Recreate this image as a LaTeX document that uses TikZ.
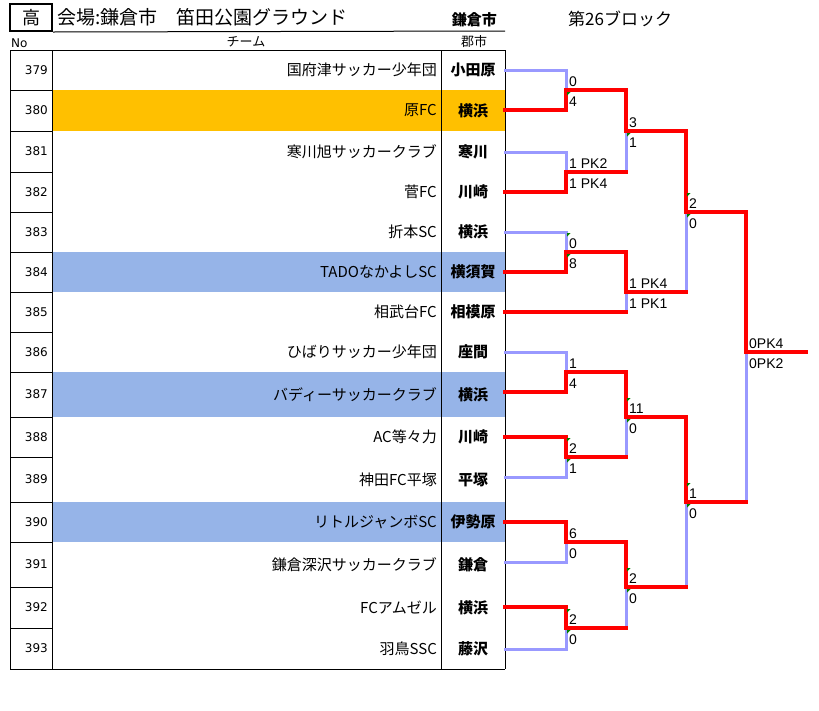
\documentclass[tikz,border=0pt]{standalone}
\usepackage{fontspec}
\usetikzlibrary{calc}
\setmainfont{Noto Sans CJK JP}
\newfontfamily\jpfont{Noto Sans CJK JP}
\newfontfamily\numfont{DejaVu Sans}
\newfontfamily\scfont{Liberation Sans}
\definecolor{winred}{RGB}{255,0,0}
\definecolor{loseblue}{RGB}{153,153,255}
\definecolor{hlorange}{RGB}{255,192,0}
\definecolor{hlblue}{RGB}{150,180,232}
\definecolor{markgreen}{RGB}{0,128,0}
\tikzset{
  tablerule/.style={draw=black, line width=1pt},
  numtxt/.style={font=\numfont\fontsize{12}{12}\selectfont, anchor=east, inner sep=0pt},
  teamtxt/.style={font=\jpfont\fontsize{15}{15}\selectfont, anchor=east, inner sep=0pt},
  citytxt/.style={font=\jpfont\bfseries\fontsize{15}{15}\selectfont, inner sep=0pt},
  headtxt/.style={font=\jpfont\fontsize{13}{13}\selectfont, inner sep=0pt},
  score/.style={font=\scfont\fontsize{14}{14}\selectfont, anchor=west, inner sep=0pt},
  winline/.style={draw=winred, line width=3.5pt, line cap=rect},
  loseline/.style={draw=loseblue, line width=3pt, line cap=rect},
  cmtmark/.style={fill=markgreen},
}
\newcommand\scorepair[3]{%
  \node[score] (#1u) at ($(#1)+(3,-8)$) {#2};
  \node[score] (#1d) at ($(#1)+(3,12)$) {#3};}
\newcommand\markup[1]{\fill[cmtmark] ($(#1)+(1,-19)$) -- ++(3.5,0) -- ++(-3.5,3.5) -- cycle;}
\newcommand\markdn[1]{\fill[cmtmark] ($(#1)+(1,2)$) -- ++(3.5,0) -- ++(-3.5,3.5) -- cycle;}
\begin{document}
\begin{tikzpicture}[x=1pt,y=-1pt]
\fill[white] (0,0) rectangle (819,710);
\useasboundingbox (0,0) rectangle (819,710);

% header
\node[draw=black, line width=2pt, minimum width=42pt, minimum height=27pt, inner sep=0pt,
      font=\jpfont\fontsize{18}{18}\selectfont] (kou) at (31,17.5) {高};
\node[anchor=west, inner sep=0pt, font=\jpfont\fontsize{19}{19}\selectfont] (venue) at (57,17) {会場:鎌倉市　笛田公園グラウンド};
\node[anchor=east, inner sep=0pt, font=\jpfont\bfseries\fontsize{15}{15}\selectfont] (hcity) at (497,20) {鎌倉市};
\node[anchor=west, inner sep=0pt, font=\jpfont\fontsize{17}{17}\selectfont] (block) at (568,19) {第26ブロック};
\coordinate (hlineend) at (505,31);
\draw[tablerule] (kou.south east) -- (hlineend);
\node[headtxt, anchor=west, font=\numfont\fontsize{12}{12}\selectfont] (hno) at (11,43) {No};
\node[headtxt] (hteam) at (246,42) {チーム};
\node[headtxt] (hgun) at (474,42) {郡市};

% rows
\foreach \n/\t/\b/\yy/\team/\city/\fc in {
379/50/90/70/国府津サッカー少年団/小田原/white,
380/90/131/110/原FC/横浜/hlorange,
381/131/172/152/寒川旭サッカークラブ/寒川/white,
382/172/212/192/菅FC/川崎/white,
383/212/252/232/折本SC/横浜/white,
384/252/292/272/TADOなかよしSC/横須賀/hlblue,
385/292/332/312/相武台FC/相模原/white,
386/332/372/352/ひばりサッカー少年団/座間/white,
387/372/417/392/バディーサッカークラブ/横浜/hlblue,
388/417/457/437/AC等々力/川崎/white,
389/457/502/477/神田FC平塚/平塚/white,
390/502/542/522/リトルジャンボSC/伊勢原/hlblue,
391/542/587/562/鎌倉深沢サッカークラブ/鎌倉/white,
392/587/628/607/FCアムゼル/横浜/white,
393/628/669/649/羽鳥SSC/藤沢/white}{
  \fill[\fc] (52,\t) rectangle (505,\b);
  \node[numtxt] (n\n) at (48,{(\t+\b)/2}) {\n};
  \node[teamtxt] (t\n) at (437,{(\t+\b)/2}) {\team};
  \node[citytxt] (c\n) at (473,{(\t+\b)/2}) {\city};
  \coordinate (e\n) at (505,\yy);
  \draw[tablerule] (10,\b) -- (505,\b);
}
\draw[tablerule] (10,50) -- (505,50);
\foreach \xx in {10,52,441,505}{\draw[tablerule] (\xx,50) -- (\xx,669);}

% bracket junctions
\coordinate (m1) at (566,90);
\coordinate (m2) at (566,172);
\coordinate (m3) at (566,252);
\coordinate (m4) at (566,372);
\coordinate (m5) at (566,457);
\coordinate (m6) at (566,542);
\coordinate (m7) at (566,628);
\coordinate (q1) at (626,131);
\coordinate (q2) at (626,292);
\coordinate (q3) at (626,417);
\coordinate (q4) at (626,587);
\coordinate (s1) at (686,212);
\coordinate (s2) at (686,502);
\coordinate (f) at (746,352);
\coordinate (fend) at (806,352);

% losing lines
\draw[loseline] (e379) -| (m1);
\draw[loseline] (e381) -| (m2);
\draw[loseline] (e383) -| (m3);
\draw[loseline] (m2 -| q1) -- (q1);
\draw[loseline] (e385 -| q2) -- (q2);
\draw[loseline] (q2 -| s1) -- (s1);
\draw[loseline] (e386) -| (m4);
\draw[loseline] (e389) -| (m5);
\draw[loseline] (e391) -| (m6);
\draw[loseline] (e393) -| (m7);
\draw[loseline] (m5 -| q3) -- (q3);
\draw[loseline] (m7 -| q4) -- (q4);
\draw[loseline] (q4 -| s2) -- (s2);
\draw[loseline] (s2 -| f) -- (f);

% winning lines
\draw[winline] (e380) -| (m1) -| (q1) -| (s1) -| (f) -- (fend);
\draw[winline] (e382) -| (m2) -- (m2 -| q1);
\draw[winline] (e384) -| (m3) -| (q2) -- (q2 -| s1);
\draw[winline] (e385) -- (e385 -| q2);
\draw[winline] (e387) -| (m4) -| (q3) -| (s2) -- (s2 -| f);
\draw[winline] (e388) -| (m5) -- (m5 -| q3);
\draw[winline] (e390) -| (m6) -| (q4) -- (q4 -| s2);
\draw[winline] (e392) -| (m7) -- (m7 -| q4);

% scores
\scorepair{m1}{0}{4}
\scorepair{m2}{1 PK2}{1 PK4}
\scorepair{m3}{0}{8}
\scorepair{q1}{3}{1}
\scorepair{q2}{1 PK4}{1 PK1}
\scorepair{s1}{2}{0}
\scorepair{f}{0PK4}{0PK2}
\scorepair{m4}{1}{4}
\scorepair{m5}{2}{1}
\scorepair{m6}{6}{0}
\scorepair{m7}{2}{0}
\scorepair{q3}{11}{0}
\scorepair{q4}{2}{0}
\scorepair{s2}{1}{0}

% green cell markers
\markdn{m1}
\markdn{q1}
\markup{s1}\markdn{s1}
\markup{m3}\markdn{m3}
\markup{q3}\markdn{q3}
\markup{m5}\markdn{m5}
\markup{s2}\markdn{s2}
\markup{q4}\markdn{q4}
\markup{m7}\markdn{m7}
\end{tikzpicture}
\end{document}
